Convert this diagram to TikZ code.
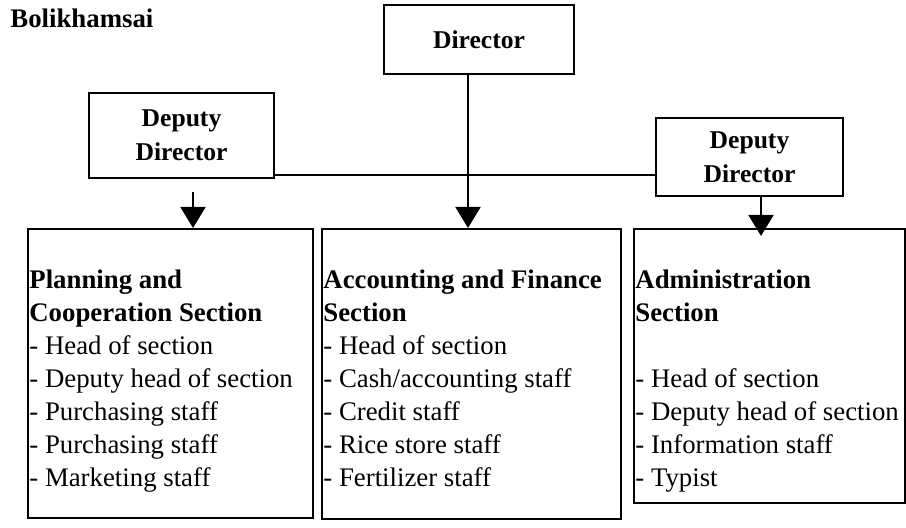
\documentclass[tikz,border=0pt]{standalone}
\usepackage{fontspec}
\setmainfont{Liberation Serif}
\usetikzlibrary{arrows.meta,positioning}

\begin{document}
\begin{tikzpicture}[x=0.5pt, y=-0.5pt,
  every node/.style={font=\fontsize{13.4}{16.5}\selectfont},
  box/.style={draw, line width=1pt, anchor=north west, inner sep=0pt,
    align=center, font=\fontsize{12.8}{17}\selectfont\bfseries},
  secbox/.style={draw, line width=1pt, anchor=north west, inner sep=0pt},
  sectext/.style={anchor=north west, inner sep=0pt, align=left},
  arr/.style={line width=0.9pt, -{Triangle[width=12.5pt,length=10.5pt]}}]
  \useasboundingbox (0,0) rectangle (906,528);

  \node[anchor=base west, inner sep=0pt, font=\fontsize{13.4}{16.5}\selectfont\bfseries]
    (prov) at (10,28) {Bolikhamsai};

  % top of the chart
  \node[box, minimum width=95pt, minimum height=34.5pt] (director) at (383,4) {Director};
  \node[box, minimum width=92.5pt, minimum height=42.5pt] (deputyL) at (88,92) {Deputy\\Director};
  \node[box, minimum width=93.5pt, minimum height=39pt] (deputyR) at (655,117) {Deputy\\Director};

  % the three sections
  \node[secbox, minimum width=142.5pt, minimum height=144.5pt] (plan) at (27,228) {};
  \node[secbox, minimum width=149.5pt, minimum height=145pt] (acc) at (321,228) {};
  \node[secbox, minimum width=135.5pt, minimum height=137pt] (adm) at (633,228) {};

  \node[sectext] (plantxt) at ([shift={(2,42)}]plan.north west)
    {\textbf{Planning and}\\\textbf{Cooperation Section}\\- Head of section\\
     - Deputy head of section\\- Purchasing staff\\- Purchasing staff\\- Marketing staff};
  \node[sectext] (acctxt) at ([shift={(2,42)}]acc.north west)
    {\textbf{Accounting and Finance}\\\textbf{Section}\\- Head of section\\
     - Cash/accounting staff\\- Credit staff\\- Rice store staff\\- Fertilizer staff};
  \node[sectext] (admtxt) at ([shift={(2,42)}]adm.north west)
    {\textbf{Administration}\\\textbf{Section}\\[16.5pt]- Head of section\\
     - Deputy head of section\\- Information staff\\- Typist};

  % connectors
  \coordinate (hline) at (0,175);
  \coordinate (dlfoot) at (193,192);
  \draw[line width=0.9pt] (deputyL.east |- hline) -- (deputyR.west |- hline);
  \draw[arr] ([xshift=-5.5pt]director.south) -- ([xshift=-5.5pt]director.south |- acc.north);
  \draw[arr] (dlfoot) -- (dlfoot |- plan.north);
  \draw[arr, shorten >=-4pt] ([xshift=5.75pt]deputyR.south) -- ([xshift=5.75pt]deputyR.south |- adm.north);
\end{tikzpicture}
\end{document}
